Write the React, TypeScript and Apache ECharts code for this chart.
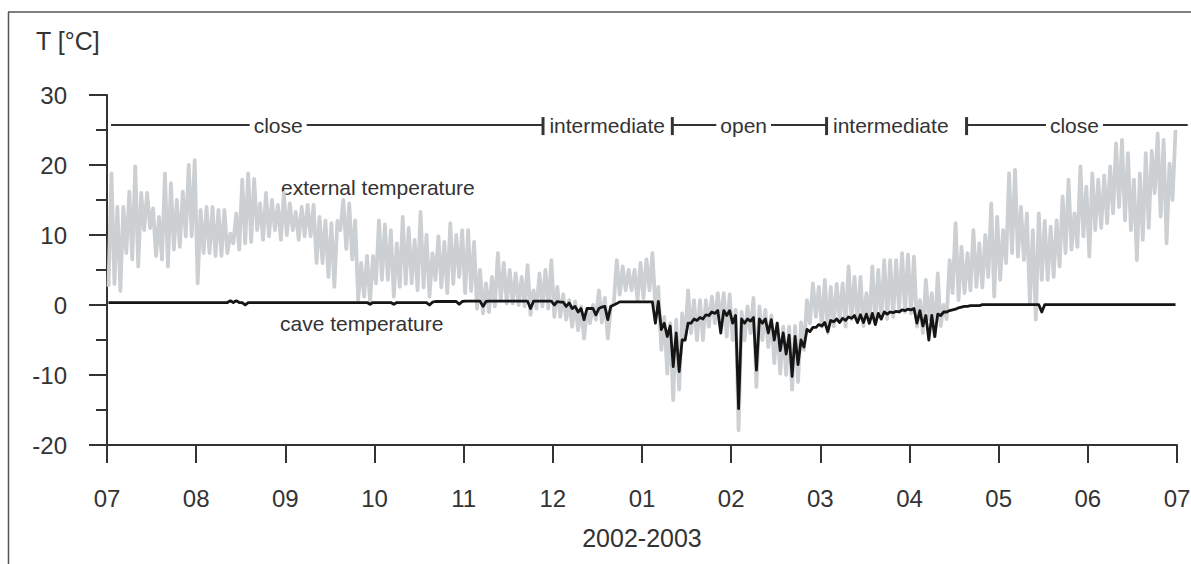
import React, { useEffect, useRef } from "react";
import * as echarts from "echarts";

// ---- data (x in months from July 2002; 15 slots per month ≈ 2 days) ----
const monthLabels = ["07", "08", "09", "10", "11", "12", "01", "02", "03", "04", "05", "06", "07"];
const slotsPerMonth = 15;

// external temperature: per-slot daily maximum / minimum (°C)
const extHigh = [
  18.8, 14, 14, 16.2, 19.8, 16, 16, 13.8, 12.6, 18.8, 17.4, 15, 16.2, 20, 20.7,
  13.6, 14, 14, 13.6, 13.6, 10.2, 13.1, 17.9, 18.8, 18, 14.5, 16, 15, 14.3, 16,
  14.5, 13.3, 14, 14.3, 14.3, 12.6, 12.1, 11.7, 12, 15, 14.5, 12.1, 6, 7, 7,
  12.1, 11.5, 10.7, 8.8, 12.6, 11, 9.3, 13.3, 10, 7.4, 9.8, 9, 11.7, 10, 10.7,
  10.7, 9, 5, 3.1, 4, 7.4, 6, 5, 4.5, 4, 5.7, 2.1, 4.5, 5, 6.4,
  2.6, 1.5, 0.7, 0.5, -0.2, -0.7, 0, 2.1, 1, -0.2, 6.4, 5.5, 5, 5, 6,
  6.5, 7.4, 2.6, -1.7, -2.6, -2.1, -1.2, 2.1, 0.7, 0.7, 0.7, 1.2, 1.7, 1.7, 1.5,
  -0.7, -1, -0.2, 1, -0.2, -0.7, -1.5, -2.6, -3.1, -3.1, -3, -2.5, 0.7, 3.1, 2.6,
  3.6, 2.6, 3, 3.1, 5.5, 4, 4, 1.7, 5.5, 5, 6.4, 6.4, 6.4, 7.4, 7.2,
  6.9, 0.7, 3.6, 1.7, 4.5, 0, 6.4, 11.7, 8.3, 7.4, 10.7, 8.8, 10, 14.5, 12.6,
  10.7, 18.8, 19.3, 14, 13.1, 10.7, 13.1, 12, 11.2, 12.1, 15.5, 17.9, 13.1, 19.8, 16.9,
  18.8, 17.9, 18.5, 19.8, 23.1, 23.6, 21.7, 17.9, 18.8, 21.7, 22, 24.5, 23.6, 20.2, 25,
];
const extLow = [
  2.6, 3, 2, 7.4, 6.5, 5.5, 10.7, 11, 7, 6.5, 5.5, 7.9, 8.3, 9.8, 9.8,
  3.1, 7.4, 7.4, 7, 7, 7.4, 8.8, 7.9, 8.8, 9, 10.7, 9.3, 9.8, 10.7, 9.3,
  10, 10.7, 9.3, 9.8, 9.8, 6, 6, 4, 2.6, 10.7, 8, 6.5, 0.7, 1.2, 0.5,
  3.1, 3.6, 3.6, 1.2, 2.6, 3, 3.1, 2.1, 2.5, 1.2, 3.6, 2.5, 1.7, 3, 4,
  1.7, 2, -0.5, -1.2, -1, -0.2, 0.7, 0.2, 0.2, 0, -0.2, -1.4, -0.5, -0.2, -0.5,
  -1.7, -1.7, -2.1, -3.1, -3.6, -4.8, -2.6, -2.1, -2.5, -4.8, 0.2, 1.5, 2.1, 2.1, 0.7,
  1, 2.1, -0.2, -6.4, -9.8, -13.6, -12.1, -5, -4, -5, -5, -3.1, -2.6, -2.6, -4.5,
  -5, -17.9, -5, -4, -11.7, -5, -6, -8.3, -9.8, -10, -12.1, -11, -6.4, -2.6, -1.7,
  -3.1, -4, -3, -2.1, -3.1, -2, -2.5, -3, -2.6, -2.5, -2, -2, -1.7, -0.7, -1,
  -1.2, -3.1, -4, -2, -4.5, -3, -2, 1.7, 0.7, 1.7, 2.1, 2.6, 2.5, 4, 1.2,
  3.6, 6, 7.4, 6.9, 6.4, 0.2, -2.1, 3.6, 3.6, 4, 5.5, 7.4, 7.9, 8.3, 9.8,
  6.9, 10.7, 11, 11.7, 13.1, 14, 12.1, 10.7, 6.4, 9.3, 11, 16, 12.6, 8.8, 15,
];

// cave temperature: per-slot maximum / minimum (°C)
const caveHigh = [
  0.35, 0.35, 0.35, 0.35, 0.35, 0.35, 0.35, 0.35, 0.35, 0.35, 0.35, 0.35, 0.35, 0.35, 0.35,
  0.35, 0.35, 0.35, 0.35, 0.35, 0.6, 0.6, 0.35, 0.35, 0.35, 0.35, 0.35, 0.35, 0.35, 0.35,
  0.35, 0.35, 0.35, 0.35, 0.35, 0.35, 0.35, 0.35, 0.35, 0.35, 0.35, 0.35, 0.35, 0.35, 0.35,
  0.35, 0.35, 0.35, 0.35, 0.35, 0.35, 0.35, 0.35, 0.35, 0.4, 0.5, 0.5, 0.5, 0.5, 0.5,
  0.55, 0.55, 0.55, 0.5, 0.55, 0.55, 0.55, 0.55, 0.55, 0.55, 0.55, 0.55, 0.55, 0.55, 0.55,
  0.5, 0.4, 0.3, -0.2, -0.5, -0.5, -0.5, -0.5, -0.2, -0.2, 0.2, 0.45, 0.45, 0.45, 0.45,
  0.45, 0.45, 0.5, -2.6, -3, -4, -5, -2.6, -2, -1.8, -1.4, -1, -0.8, -0.8, -0.8,
  -1.5, -2, -2, -1.8, -2, -2, -2.1, -2.6, -4, -4.3, -4.5, -5, -3.5, -3.2, -2.8,
  -2.5, -2.2, -2, -1.9, -1.7, -1.5, -1.4, -1.3, -1.2, -1.2, -1, -1, -0.9, -0.7, -0.6,
  -0.5, -0.8, -1.5, -1.5, -1.3, -1, -0.8, -0.6, -0.3, -0.2, -0.1, -0.1, 0.05, 0.05, 0.05,
  0.05, 0.05, 0.05, 0.05, 0.05, 0.05, 0.05, 0.05, 0.05, 0.05, 0.05, 0.05, 0.05, 0.05, 0.05,
  0.05, 0.05, 0.05, 0.05, 0.05, 0.05, 0.05, 0.05, 0.05, 0.05, 0.05, 0.05, 0.05, 0.05, 0.05,
];
const caveLow = [
  0.35, 0.35, 0.35, 0.35, 0.35, 0.35, 0.35, 0.35, 0.35, 0.35, 0.35, 0.35, 0.35, 0.35, 0.35,
  0.35, 0.35, 0.35, 0.35, 0.35, 0.35, 0.35, 0.35, 0.0, 0.35, 0.35, 0.35, 0.35, 0.35, 0.35,
  0.35, 0.35, 0.35, 0.35, 0.35, 0.35, 0.35, 0.35, 0.35, 0.35, 0.35, 0.35, 0.35, 0.35, 0.1,
  0.35, 0.35, 0.35, 0.1, 0.35, 0.35, 0.35, 0.35, 0.35, 0.0, 0.5, 0.5, 0.5, 0.5, 0.1,
  0.55, 0.55, 0.55, -0.2, 0.55, 0.55, 0.55, 0.55, 0.55, 0.55, 0.55, -0.5, 0.55, 0.55, 0.55,
  0, 0.4, -0.2, -0.5, -1, -2.1, -0.5, -1.4, -0.3, -2.1, 0, 0.45, 0.45, 0.45, 0.45,
  0.45, 0.45, -2.6, -3.5, -4.5, -8.8, -9.5, -5, -2.6, -2.2, -2, -1.5, -1.2, -4, -1.5,
  -2.6, -14.8, -2.6, -2.3, -9.3, -2.6, -4, -5, -6.5, -7, -10.2, -8.5, -6, -3.8, -3.2,
  -3, -3.8, -2.4, -2.5, -2.2, -1.9, -2.5, -2.5, -2.6, -2.8, -2, -1.3, -1.1, -1, -0.8,
  -0.7, -2.6, -3, -5, -4.5, -1.5, -1, -0.7, -0.4, -0.2, -0.1, -0.1, 0.05, 0.05, 0.05,
  0.05, 0.05, 0.05, 0.05, 0.05, 0.05, 0.05, -1, 0.05, 0.05, 0.05, 0.05, 0.05, 0.05, 0.05,
  0.05, 0.05, 0.05, 0.05, 0.05, 0.05, 0.05, 0.05, 0.05, 0.05, 0.05, 0.05, 0.05, 0.05, 0.05,
];

// cave ventilation phases (months from July 2002)
const phaseNames = ["close", "intermediate", "open", "intermediate", "close"];
const phaseStart = [0.045, 4.89, 6.34, 8.07, 9.64];
const phaseEnd = [4.89, 6.34, 8.07, 9.64, 12.12];
const phaseLabelAt = [1.92, 5.61, 7.14, 8.79, 10.85];
const phaseHasRule = [true, false, true, false, true];
const phaseRuleLevel = 25.7;

const FONT = "'Liberation Sans', Arial, Helvetica, sans-serif";
const INK = "#333333";

function zigzag(high: number[], low: number[]): number[][] {
  const pts: number[][] = [];
  for (let i = 0; i < high.length; i++) {
    const x0 = i / slotsPerMonth;
    pts.push([x0 + 0.25 / slotsPerMonth, low[i]]);
    pts.push([x0 + 0.75 / slotsPerMonth, high[i]]);
  }
  return pts;
}

export default function App() {
  const ref = useRef<HTMLDivElement>(null);

  useEffect(() => {
    if (!ref.current) return;
    const chart = echarts.init(ref.current, undefined, { renderer: "svg" });

    const phaseData = phaseNames.map((_, i) => [phaseStart[i], phaseEnd[i]]);

    chart.setOption({
      animation: false,
      backgroundColor: "#ffffff",
      textStyle: { fontFamily: FONT },
      grid: {
        left: 107,
        right: 14,
        top: 95,
        bottom: 119,
        containLabel: false,
        outerBoundsMode: "none",
      },
      xAxis: {
        type: "value",
        min: 0,
        max: 12,
        interval: 1,
        axisLine: { show: true, onZero: false, lineStyle: { color: INK, width: 2 } },
        axisTick: { show: true, length: 18, lineStyle: { color: INK, width: 2 } },
        axisLabel: {
          margin: 41,
          fontSize: 24,
          color: INK,
          fontFamily: FONT,
          formatter: (v: number) => monthLabels[Math.round(v)] ?? "",
        },
        splitLine: { show: false },
        name: "2002-2003",
        nameLocation: "middle",
        nameGap: 80,
        nameTextStyle: { fontSize: 25, color: INK, fontFamily: FONT },
      },
      yAxis: {
        type: "value",
        min: -20,
        max: 30,
        interval: 10,
        axisLine: { show: true, onZero: false, lineStyle: { color: INK, width: 2 } },
        axisTick: { show: true, length: 18, lineStyle: { color: INK, width: 2 } },
        minorTick: { show: true, splitNumber: 2, length: 11, lineStyle: { color: INK, width: 2 } },
        axisLabel: { margin: 40, fontSize: 24, color: INK, fontFamily: FONT },
        splitLine: { show: false },
        minorSplitLine: { show: false },
      },
      series: [
        {
          name: "external temperature",
          type: "line",
          data: zigzag(extHigh, extLow),
          showSymbol: false,
          symbol: "none",
          silent: true,
          lineStyle: { color: "#cdd0d2", width: 3.8, join: "round" },
          z: 2,
        },
        {
          name: "cave temperature",
          type: "line",
          data: zigzag(caveHigh, caveLow),
          showSymbol: false,
          symbol: "none",
          silent: true,
          lineStyle: { color: "#151515", width: 2.8, join: "round" },
          z: 3,
        },
        {
          name: "phases",
          type: "custom",
          clip: false,
          silent: true,
          z: 4,
          data: phaseData,
          encode: { x: [0, 1] },
          renderItem: (params: any, api: any) => {
            const i = params.dataIndex;
            const p0 = api.coord([phaseStart[i], phaseRuleLevel]);
            const p1 = api.coord([phaseEnd[i], phaseRuleLevel]);
            const pc = api.coord([phaseLabelAt[i], phaseRuleLevel]);
            const children: any[] = [];
            if (phaseHasRule[i]) {
              children.push({
                type: "line",
                shape: { x1: p0[0], y1: p0[1], x2: p1[0], y2: p1[1] },
                style: { stroke: INK, lineWidth: 2 },
              });
            }
            children.push({
              type: "text",
              x: pc[0],
              y: pc[1],
              style: {
                text: phaseNames[i],
                fontSize: 21,
                fontFamily: FONT,
                fill: INK,
                align: "center",
                verticalAlign: "middle",
                backgroundColor: "#ffffff",
                padding: [0, 4],
              },
            });
            if (i > 0) {
              children.push({
                type: "line",
                shape: { x1: p0[0], y1: p0[1] - 8, x2: p0[0], y2: p0[1] + 10 },
                style: { stroke: INK, lineWidth: 3 },
              });
            }
            return { type: "group", children };
          },
        },
      ],
      graphic: [
        {
          type: "line",
          shape: { x1: 8, y1: 12, x2: 1191, y2: 12 },
          style: { stroke: "#555555", lineWidth: 1.5 },
          silent: true,
        },
        {
          type: "line",
          shape: { x1: 8.5, y1: 12, x2: 8.5, y2: 564 },
          style: { stroke: "#555555", lineWidth: 1.5 },
          silent: true,
        },
        {
          type: "text",
          x: 36,
          y: 41,
          style: { text: "T [°C]", fontSize: 25, fontFamily: FONT, fill: INK, verticalAlign: "middle" },
          silent: true,
        },
        {
          type: "text",
          x: 281,
          y: 187,
          style: { text: "external temperature", fontSize: 21, fontFamily: FONT, fill: INK, verticalAlign: "middle" },
          silent: true,
        },
        {
          type: "text",
          x: 280,
          y: 323,
          style: { text: "cave temperature", fontSize: 21, fontFamily: FONT, fill: INK, verticalAlign: "middle" },
          silent: true,
        },
      ],
    });

    return () => chart.dispose();
  }, []);

  return (
    <div
      ref={ref}
      style={{ position: "fixed", left: 0, top: 0, width: 1191, height: 564, background: "#fff" }}
    />
  );
}
